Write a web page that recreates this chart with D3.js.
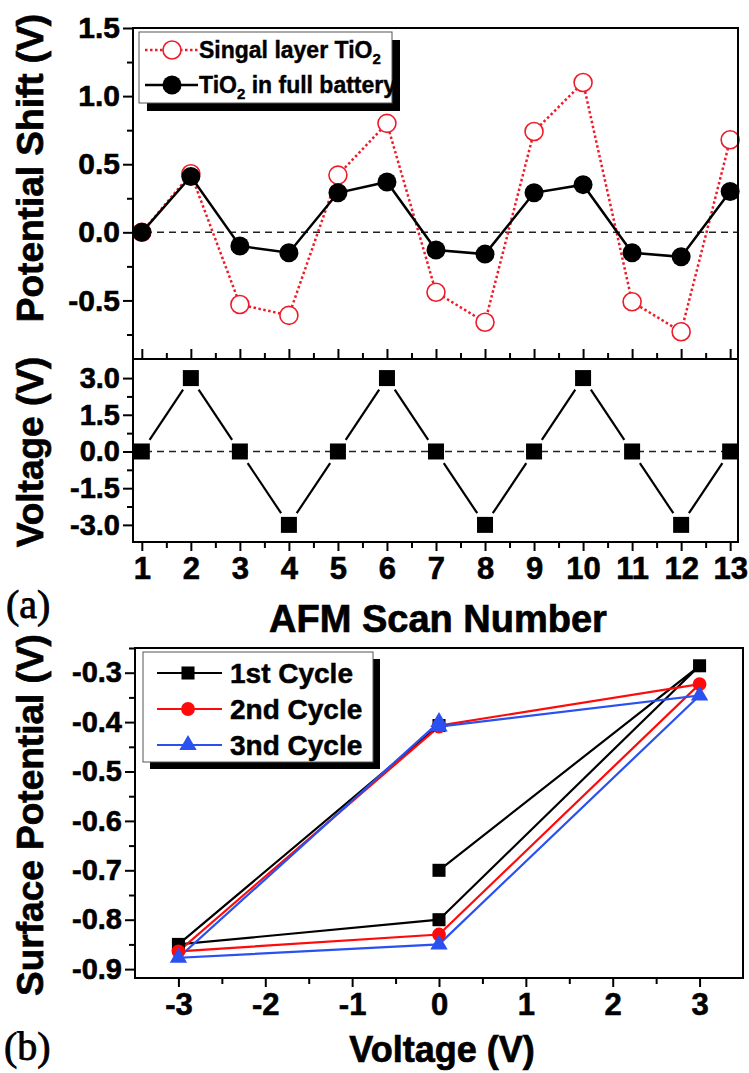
<!DOCTYPE html>
<html>
<head>
<meta charset="utf-8">
<script src="https://cdn.jsdelivr.net/npm/d3@7/dist/d3.min.js"></script>
<style>
  body { margin: 0; background: #fff; }
  svg { display: block; }
  text { font-family: "Liberation Sans", Arial, sans-serif; }
  .tick text { font-weight: bold; fill: #000; stroke: #000; stroke-width: 0.6; }
  .tick line { stroke: #000; stroke-width: 2; }
  .heavy { font-weight: bold; stroke: #000; stroke-width: 0.7; }
</style>
</head>
<body>
<div id="chart"></div>
<script>
// ---- data ----
const scans = [1, 2, 3, 4, 5, 6, 7, 8, 9, 10, 11, 12, 13];
const singleLayer = [0, 0.43, -0.53, -0.61, 0.42, 0.8, -0.44, -0.66, 0.74, 1.1, -0.51, -0.73, 0.68];
const fullBattery = [0, 0.41, -0.1, -0.15, 0.29, 0.37, -0.13, -0.16, 0.29, 0.35, -0.15, -0.18, 0.3];
const appliedVoltage = [0, 3, 0, -3, 0, 3, 0, -3, 0, 3, 0, -3, 0];

const cycleVoltage = [0, 3, 0, -3, 0];
const cycle1 = [-0.70, -0.286, -0.80, -0.85, -0.407];
const cycle2 = [-0.407, -0.323, -0.83, -0.864, -0.409];
const cycle3 = [-0.409, -0.346, -0.85, -0.877, -0.40];
const cycleNames = ["1st Cycle", "2nd Cycle", "3nd Cycle"];

const shiftTicks = [-0.5, 0, 0.5, 1, 1.5];
const shiftMinor = [-0.75, -0.25, 0.25, 0.75, 1.25];
const voltTicks = [-3, -1.5, 0, 1.5, 3];
const voltMinor = [-2.25, -0.75, 0.75, 2.25];
const spTicks = [-0.9, -0.8, -0.7, -0.6, -0.5, -0.4, -0.3];
const spMinor = [-0.85, -0.75, -0.65, -0.55, -0.45, -0.35, -0.25];
const vxTicks = [-3, -2, -1, 0, 1, 2, 3];
const vxMinor = [-2.5, -1.5, -0.5, 0.5, 1.5, 2.5];
const scanMinor = d3.range(1.5, 13, 1);

const W = 749, H = 1073;
const svg = d3.select("#chart").append("svg").attr("width", W).attr("height", H);

const fmt = d => d.toFixed(1);

// ---- scales ----
const xScan = d3.scaleLinear().domain([0.82, 13.16]).range([133, 738]);
const yShift = d3.scaleLinear().domain([-0.93, 1.5]).range([359, 28]);
const yVolt = d3.scaleLinear().domain([-3.7, 3.78]).range([542, 359]);
const xV = d3.scaleLinear().domain([-3.5, 3.5]).range([135, 743]);
const ySP = d3.scaleLinear().domain([-0.918, -0.25]).range([978, 648]);

function frame(x0, x1, y0, y1) {
  svg.append("rect")
    .attr("x", x0).attr("y", y0)
    .attr("width", x1 - x0).attr("height", y1 - y0)
    .attr("fill", "none").attr("stroke", "#000").attr("stroke-width", 2);
}

function axis(gen, tx, ty, size) {
  const g = svg.append("g").attr("transform", `translate(${tx},${ty})`).call(gen);
  g.select(".domain").remove();
  g.selectAll(".tick text").style("font-size", size + "px");
  return g;
}

// ---- panel 1: potential shift ----
axis(d3.axisLeft(yShift).tickValues(shiftTicks).tickFormat(fmt).tickSize(10).tickPadding(3), 133, 0, 30);
axis(d3.axisLeft(yShift).tickValues(shiftMinor).tickFormat("").tickSize(6), 133, 0, 1);
axis(d3.axisTop(xScan).tickValues(scans).tickFormat("").tickSize(10), 0, 359, 1);
axis(d3.axisTop(xScan).tickValues(scanMinor).tickFormat("").tickSize(6), 0, 359, 1);

svg.append("line")
  .attr("x1", 133).attr("x2", 738)
  .attr("y1", yShift(0)).attr("y2", yShift(0))
  .attr("stroke", "#222").attr("stroke-width", 1.6).attr("stroke-dasharray", "7,5");

const shiftLine = d3.line().x((d, i) => xScan(scans[i])).y(d => yShift(d));

svg.append("path").datum(singleLayer)
  .attr("d", shiftLine).attr("fill", "none")
  .attr("stroke", "#ee1c2a").attr("stroke-width", 2.5).attr("stroke-dasharray", "2.5,2.5");
svg.append("g").selectAll("circle").data(singleLayer).join("circle")
  .attr("cx", (d, i) => xScan(scans[i])).attr("cy", d => yShift(d)).attr("r", 9)
  .attr("fill", "#fff").attr("stroke", "#ee1c2a").attr("stroke-width", 1.6);

svg.append("path").datum(fullBattery)
  .attr("d", shiftLine).attr("fill", "none")
  .attr("stroke", "#000").attr("stroke-width", 2.5);
svg.append("g").selectAll("circle").data(fullBattery).join("circle")
  .attr("cx", (d, i) => xScan(scans[i])).attr("cy", d => yShift(d)).attr("r", 9.5)
  .attr("fill", "#000");

frame(133, 738, 28, 359);

// legend 1
const lg1 = svg.append("g");
lg1.append("rect").attr("x", 147).attr("y", 40).attr("width", 253).attr("height", 71).attr("fill", "#000");
lg1.append("rect").attr("x", 139).attr("y", 32).attr("width", 253).attr("height", 71)
  .attr("fill", "#fff").attr("stroke", "#555").attr("stroke-width", 1);
lg1.append("line").attr("x1", 145).attr("x2", 198).attr("y1", 50).attr("y2", 50)
  .attr("stroke", "#ee1c2a").attr("stroke-width", 2.5).attr("stroke-dasharray", "2.5,2.5");
lg1.append("circle").attr("cx", 172).attr("cy", 50).attr("r", 9)
  .attr("fill", "#fff").attr("stroke", "#ee1c2a").attr("stroke-width", 1.6);
lg1.append("line").attr("x1", 145).attr("x2", 198).attr("y1", 85).attr("y2", 85)
  .attr("stroke", "#000").attr("stroke-width", 2.5);
lg1.append("circle").attr("cx", 172).attr("cy", 85).attr("r", 9.5).attr("fill", "#000");

const t1 = lg1.append("text").attr("class", "heavy").attr("x", 199).attr("y", 58)
  .style("font-size", "23px").style("stroke-width", 0.4);
t1.append("tspan").text("Singal layer TiO");
t1.append("tspan").attr("dy", 6).style("font-size", "15px").text("2");
const t2 = lg1.append("text").attr("class", "heavy").attr("x", 199).attr("y", 93)
  .style("font-size", "23px").style("stroke-width", 0.4);
t2.append("tspan").text("TiO");
t2.append("tspan").attr("dy", 6).style("font-size", "15px").text("2");
t2.append("tspan").attr("dy", -6).text(" in full battery");

// ---- panel 2: applied voltage ----
axis(d3.axisLeft(yVolt).tickValues(voltTicks).tickFormat(fmt).tickSize(10).tickPadding(3), 133, 0, 29);
axis(d3.axisLeft(yVolt).tickValues(voltMinor).tickFormat("").tickSize(6), 133, 0, 1);
axis(d3.axisBottom(xScan).tickValues(scans).tickSize(9).tickPadding(6), 0, 542, 31);
axis(d3.axisBottom(xScan).tickValues(scanMinor).tickFormat("").tickSize(6), 0, 542, 1);

svg.append("line")
  .attr("x1", 133).attr("x2", 738)
  .attr("y1", yVolt(0)).attr("y2", yVolt(0))
  .attr("stroke", "#222").attr("stroke-width", 1.6).attr("stroke-dasharray", "7,5");

// segments stop short of the square markers
const gap = 14;
const segs = d3.pairs(appliedVoltage.map((v, i) => [xScan(scans[i]), yVolt(v)]));
svg.append("g").selectAll("line").data(segs).join("line")
  .each(function ([a, b]) {
    const dx = b[0] - a[0], dy = b[1] - a[1], L = Math.hypot(dx, dy);
    const ux = dx / L, uy = dy / L;
    d3.select(this)
      .attr("x1", a[0] + ux * gap).attr("y1", a[1] + uy * gap)
      .attr("x2", b[0] - ux * gap).attr("y2", b[1] - uy * gap);
  })
  .attr("stroke", "#000").attr("stroke-width", 2.2);

svg.append("g").selectAll("rect").data(appliedVoltage).join("rect")
  .attr("x", (d, i) => xScan(scans[i]) - 8).attr("y", d => yVolt(d) - 8)
  .attr("width", 16).attr("height", 16).attr("fill", "#000");

frame(133, 738, 359, 542);

// ---- axis titles, panel a ----
function vTitle(x, y, label, size) {
  svg.append("text").attr("class", "heavy")
    .attr("transform", `translate(${x},${y}) rotate(-90)`)
    .attr("text-anchor", "middle")
    .style("font-size", size + "px")
    .text(label);
}
vTitle(43, 168, "Potential Shift (V)", 37);
vTitle(43, 452, "Voltage (V)", 37);

svg.append("text").attr("class", "heavy").attr("x", 438).attr("y", 632).attr("text-anchor", "middle")
  .style("font-size", "38px").text("AFM Scan Number");
svg.append("text").attr("x", 6).attr("y", 618)
  .style("font-family", "'Liberation Serif', 'Times New Roman', serif")
  .style("font-size", "40px").style("stroke", "#000").style("stroke-width", 0.8).text("(a)");

// ---- panel b: surface potential vs voltage ----
axis(d3.axisLeft(ySP).tickValues(spTicks).tickFormat(fmt).tickSize(10).tickPadding(3), 135, 0, 29);
axis(d3.axisLeft(ySP).tickValues(spMinor).tickFormat("").tickSize(6), 135, 0, 1);
axis(d3.axisBottom(xV).tickValues(vxTicks).tickFormat(d3.format("d")).tickSize(9).tickPadding(6), 0, 978, 31);
axis(d3.axisBottom(xV).tickValues(vxMinor).tickFormat("").tickSize(6), 0, 978, 1);
svg.selectAll(".tick text").filter(function () { return this.textContent.includes("\u2212"); })
  .text(function () { return this.textContent.replace("\u2212", "-"); });

const cycles = [cycle1, cycle2, cycle3];
const cycleColors = ["#000000", "#ff0a0a", "#2a50f0"];
const cycleLine = d3.line().x((d, i) => xV(cycleVoltage[i])).y(d => ySP(d));

const symSquare = d3.symbol().type(d3.symbolSquare).size(170);
const symCircle = d3.symbol().type(d3.symbolCircle).size(150);
const symTri = d3.symbol().type(d3.symbolTriangle).size(130);
const symbols = [symSquare, symCircle, symTri];

cycles.forEach((c, k) => {
  svg.append("path").datum(c).attr("d", cycleLine)
    .attr("fill", "none").attr("stroke", cycleColors[k]).attr("stroke-width", 2.2);
});
cycles.forEach((c, k) => {
  svg.append("g").selectAll("path").data(c).join("path")
    .attr("transform", (d, i) => `translate(${xV(cycleVoltage[i])},${ySP(d)})`)
    .attr("d", symbols[k]()).attr("fill", cycleColors[k]);
});

frame(135, 743, 648, 978);

// legend 2
const lg2 = svg.append("g");
lg2.append("rect").attr("x", 150).attr("y", 659).attr("width", 230).attr("height", 110).attr("fill", "#000");
lg2.append("rect").attr("x", 143).attr("y", 652).attr("width", 230).attr("height", 110)
  .attr("fill", "#fff").attr("stroke", "#555").attr("stroke-width", 1);
cycleNames.forEach((name, k) => {
  const y = 673 + k * 36;
  lg2.append("line").attr("x1", 157).attr("x2", 222).attr("y1", y).attr("y2", y)
    .attr("stroke", cycleColors[k]).attr("stroke-width", 2.2);
  lg2.append("path").attr("transform", `translate(188,${y})`)
    .attr("d", symbols[k]()).attr("fill", cycleColors[k]);
  lg2.append("text").attr("class", "heavy").attr("x", 230).attr("y", y + 10)
    .style("font-size", "28px").style("stroke-width", 0.5).text(name);
});

vTitle(43, 815, "Surface Potential (V)", 37);
svg.append("text").attr("class", "heavy").attr("x", 442).attr("y", 1062).attr("text-anchor", "middle")
  .style("font-size", "36px").text("Voltage (V)");
svg.append("text").attr("x", 4).attr("y", 1060)
  .style("font-family", "'Liberation Serif', 'Times New Roman', serif")
  .style("font-size", "40px").style("stroke", "#000").style("stroke-width", 0.8).text("(b)");
</script>
</body>
</html>
